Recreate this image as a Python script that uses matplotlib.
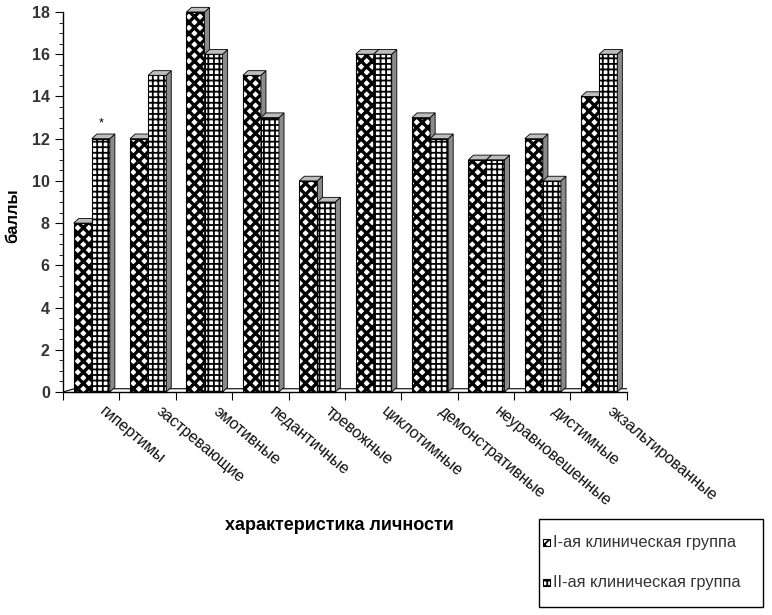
import numpy as np
import matplotlib.pyplot as plt
from matplotlib.patches import Polygon, Rectangle
from matplotlib.ticker import MultipleLocator

plt.rcParams['font.family'] = ['Liberation Sans', 'DejaVu Sans']
plt.rcParams['hatch.linewidth'] = 1.3

categories = ['гипертимы', 'застревающие', 'эмотивные', 'педантичные', 'тревожные',
              'циклотимные', 'демонстративные', 'неуравновешенные', 'дистимные',
              'экзальтированные']
group1 = [8, 12, 18, 15, 10, 16, 13, 11, 12, 14]
group2 = [12, 15, 16, 13, 9, 16, 12, 11, 10, 16]
labels = ['I-ая клиническая группа', 'II-ая клиническая группа']

fig = plt.figure(figsize=(7.72, 6.15), dpi=100)
ax = fig.add_axes([0.0816, 0.3626, 0.7304, 0.6179])

x = np.arange(len(categories))
w = 0.32
dx, dy = 0.09, 0.22


def bar3d(xl, h, dark, z):
    if dark:
        with plt.rc_context({'hatch.linewidth': 2.4}):
            ax.bar(xl, h, width=w, align='edge', facecolor='white', edgecolor='black',
                   hatch='xxx', linewidth=0, zorder=z, clip_on=False)
    else:
        ax.bar(xl, h, width=w, align='edge', facecolor='white', edgecolor='black',
               hatch='+++', linewidth=0, zorder=z, clip_on=False)
    ax.bar(xl, h, width=w, align='edge', fill=False, edgecolor='black',
           linewidth=0.8, zorder=z, clip_on=False)
    side = Polygon([[xl + w, 0], [xl + w + dx, dy], [xl + w + dx, h + dy], [xl + w, h]],
                   closed=True, facecolor='#8a8a8a', edgecolor='black', lw=0.6, zorder=z,
                   clip_on=False)
    top = Polygon([[xl, h], [xl + dx, h + dy], [xl + w + dx, h + dy], [xl + w, h]],
                  closed=True, facecolor='#bdbdbd', edgecolor='black', lw=0.6, zorder=z,
                  clip_on=False)
    ax.add_patch(side)
    ax.add_patch(top)


for i in x:
    bar3d(i + 0.19, group1[i], True, 2)
    bar3d(i + 0.19 + w, group2[i], False, 3)

ax.text(x[0] + 0.19 + w * 1.5, group2[0] + 0.45, '*', ha='center', va='bottom', fontsize=9)

# floor edge
ax.plot([0, 0.2, len(categories)], [0, dy * 0.7, dy * 0.7], color='black', lw=0.8, zorder=1)

ax.set_xlim(0, len(categories))
ax.set_ylim(0, 18)
ax.spines['top'].set_visible(False)
ax.spines['right'].set_visible(False)
ax.spines['left'].set_linewidth(1.0)
ax.spines['bottom'].set_linewidth(1.0)

ax.set_xticks(np.arange(len(categories) + 1))
ax.set_xticklabels([])
ax.tick_params(axis='x', length=6, direction='out')
ax.yaxis.set_major_locator(MultipleLocator(2))
ax.yaxis.set_minor_locator(MultipleLocator(0.5))
ax.tick_params(axis='y', which='major', length=6, labelsize=11.5, labelcolor='#333333')
ax.tick_params(axis='y', which='minor', length=3)
for t in ax.get_yticklabels():
    t.set_fontweight('bold')

for i, c in enumerate(categories):
    ax.text(i + 0.78, -0.55, c, rotation=-40, rotation_mode='anchor', ha='left', va='top',
            fontsize=11.5, color='#111111')

fig.text(0.017, 0.65, 'баллы', rotation=90, ha='center', va='center',
         fontsize=12, fontweight='bold')
fig.text(0.44, 0.146, 'характеристика личности', ha='center', va='center',
         fontsize=13, fontweight='bold')

# legend box drawn by hand, figure pixel coords
W, H = 772.0, 615.0
fig.patches.append(Rectangle((539 / W, 1 - 607 / H), 224 / W, 88 / H, transform=fig.transFigure,
                             facecolor='white', edgecolor='black', lw=1.0))
for k, (lab, yy) in enumerate(zip(labels, [542, 582])):
    hh = 'xxx' if k == 0 else '+++'
    fig.patches.append(Rectangle((543 / W, 1 - (yy + 3.5) / H), 7 / W, 7 / H,
                                 transform=fig.transFigure, facecolor='white',
                                 edgecolor='black', hatch=hh, lw=0.8))
    fig.text(553 / W, 1 - yy / H, lab, ha='left', va='center', fontsize=11.8, color='#333333')

fig.savefig('out.png', dpi=100)
